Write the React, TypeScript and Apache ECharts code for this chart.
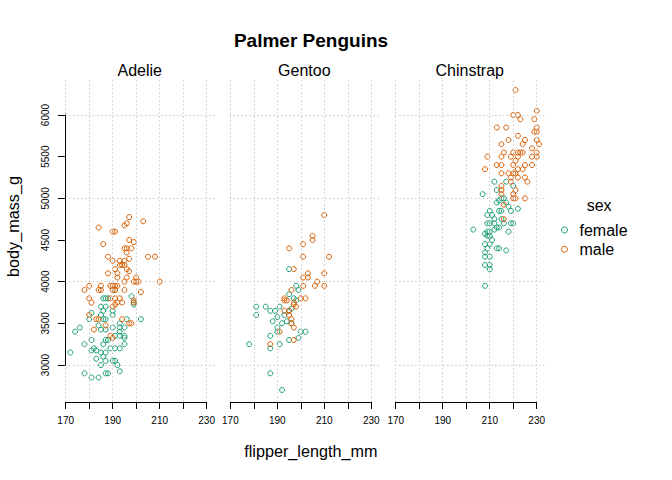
import React, { useEffect, useRef } from "react";
import * as echarts from "echarts";

const PANELS = ["Adelie", "Gentoo", "Chinstrap"];
const SEXES = ["female", "male"];
const X_TICKS = [170, 180, 190, 200, 210, 220, 230];
const X_LABELS = [170, 190, 210, 230];
const Y_TICKS = [3000, 3500, 4000, 4500, 5000, 5500, 6000];
const Y_GRID = [3000, 4000, 5000, 6000];

const ADELIE_FEMALE = [
  [198, 3825], [199, 3750], [199, 3725], [186, 3800], [187, 3800], [188, 3800], [191, 3900],
  [181, 3625], [185, 3700], [187, 3700], [186, 3650], [190, 3650], [190, 3600], [180, 3550],
  [185, 3600], [186, 3550], [187, 3550], [196, 3550], [202, 3550], [176, 3450], [174, 3400],
  [184, 3475], [185, 3425], [187, 3425], [190, 3450], [193, 3500], [193, 3450], [195, 3450],
  [193, 3400], [195, 3350], [195, 3325], [178, 3250], [172, 3150], [181, 3300], [187, 3300],
  [188, 3300], [191, 3350], [193, 3350], [182, 3200], [181, 3175], [183, 3175], [186, 3250],
  [189, 3200], [191, 3200], [195, 3250], [193, 3200], [185, 3150], [187, 3150], [186, 3100],
  [183, 3075], [187, 3050], [190, 3050], [191, 3050], [192, 3000], [185, 3000], [193, 2925],
  [178, 2900], [181, 2850], [184, 2850], [187, 2900], [188, 2900],
];
const ADELIE_MALE = [
  [197, 4775], [203, 4725], [196, 4700], [195, 4675], [184, 4650], [190, 4600], [191, 4600],
  [186, 4450], [197, 4500], [199, 4475], [195, 4400], [196, 4400], [198, 4400], [196, 4350],
  [188, 4300], [190, 4250], [193, 4250], [195, 4250], [197, 4275], [205, 4300], [208, 4300],
  [193, 4200], [194, 4200], [195, 4200], [191, 4150], [196, 4150], [197, 4125], [188, 4100],
  [192, 4100], [192, 4050], [196, 4050], [200, 4050], [201, 4000], [200, 4000], [195, 4000],
  [199, 4000], [210, 4000], [185, 3950], [180, 3950], [189, 3950], [190, 3950], [191, 3950],
  [192, 3950], [178, 3900], [184, 3900], [185, 3900], [190, 3900], [191, 3900], [195, 3900],
  [202, 3875], [180, 3800], [181, 3750], [189, 3800], [191, 3800], [193, 3800], [190, 3700],
  [191, 3725], [192, 3750], [194, 3750], [199, 3775], [199, 3750], [180, 3600], [183, 3550],
  [184, 3550], [194, 3550], [182, 3425], [187, 3475], [197, 3500], [198, 3500], [189, 3350],
  [190, 3325],
];
const GENTOO_FEMALE = [
  [195, 4150], [198, 3950], [199, 3900], [195, 3850], [197, 3800], [198, 3775], [181, 3700],
  [185, 3700], [191, 3700], [181, 3600], [187, 3650], [189, 3650], [193, 3600], [196, 3675],
  [195, 3650], [190, 3575], [188, 3525], [192, 3500], [194, 3525], [196, 3500], [190, 3450],
  [190, 3400], [200, 3400], [202, 3400], [187, 3350], [199, 3325], [195, 3300], [178, 3250],
  [187, 3200], [191, 3250], [187, 2900], [192, 2700],
];
const GENTOO_MALE = [
  [210, 4800], [205, 4550], [205, 4500], [201, 4450], [195, 4400], [201, 4300], [212, 4300],
  [197, 4150], [203, 4100], [201, 4050], [203, 4050], [210, 4100], [207, 4000], [201, 3950],
  [206, 3950], [210, 3950], [196, 3900], [200, 3800], [202, 3800], [193, 3800], [194, 3775],
  [193, 3775], [197, 3750], [197, 3725], [198, 3700], [193, 3650], [195, 3650], [195, 3600],
  [196, 3550], [196, 3500], [197, 3450], [191, 3400], [187, 3250], [197, 3300],
];
const CHINSTRAP_FEMALE = [
  [212, 5200], [217, 5200], [213, 5100], [220, 5150], [207, 5050], [215, 5000], [216, 5000],
  [214, 4975], [213, 4950], [217, 4950], [218, 4900], [210, 4850], [214, 4850], [215, 4850],
  [219, 4850], [222, 4875], [209, 4800], [211, 4800], [212, 4750], [215, 4750], [216, 4700],
  [209, 4700], [210, 4700], [212, 4700], [219, 4700], [220, 4700], [214, 4650], [213, 4650],
  [212, 4625], [203, 4625], [218, 4600], [209, 4600], [210, 4600], [208, 4575], [209, 4550],
  [210, 4550], [211, 4500], [208, 4450], [210, 4450], [209, 4400], [213, 4400], [214, 4400],
  [217, 4375], [208, 4350], [208, 4300], [210, 4300], [208, 4200], [210, 4200], [210, 4150],
  [208, 3950],
];
const CHINSTRAP_MALE = [
  [221, 6300], [220, 6000], [222, 6000], [230, 6050], [223, 5950], [229, 5950], [213, 5850],
  [217, 5850], [230, 5850], [229, 5800], [230, 5800], [222, 5750], [218, 5700], [225, 5700],
  [230, 5700], [215, 5650], [224, 5650], [231, 5650], [228, 5600], [216, 5550], [220, 5550],
  [222, 5550], [223, 5550], [224, 5550], [230, 5550], [209, 5500], [215, 5500], [219, 5500],
  [222, 5500], [228, 5500], [230, 5500], [221, 5450], [213, 5400], [215, 5400], [220, 5400],
  [225, 5400], [228, 5400], [208, 5350], [222, 5350], [224, 5350], [215, 5300], [218, 5300],
  [220, 5300], [221, 5300], [219, 5250], [222, 5250], [225, 5250], [226, 5200], [219, 5200],
  [215, 5150], [215, 5100], [221, 5100], [215, 5050], [220, 5050], [220, 5000], [221, 5000],
  [225, 5000], [216, 4925], [216, 4750],
];

const PANEL_DATA = [
  [ADELIE_FEMALE, ADELIE_MALE],
  [GENTOO_FEMALE, GENTOO_MALE],
  [CHINSTRAP_FEMALE, CHINSTRAP_MALE],
];

const COLORS: Record<string, string> = { female: "#1B9E77", male: "#D95F02" };
const FF = "'Liberation Sans', Arial, Helvetica, sans-serif";

// data range with 4% padding (R style)
const XMIN = 169.64, XMAX = 233.36, YMIN = 2556, YMAX = 6444;
// layout
const PANEL_LEFT = [64.85, 229.5, 394.9];
const PANEL_W = 149.7;
const PANEL_TOP = 78;
const PANEL_H = 324;

export default function App() {
  const ref = useRef<HTMLDivElement>(null);
  useEffect(() => {
    if (!ref.current) return;
    const chart = echarts.init(ref.current, undefined, { renderer: "svg" });
    const XS = PANEL_W / (XMAX - XMIN);
    const YS = PANEL_H / (YMAX - YMIN);
    const x0 = X_TICKS[0], x1 = X_TICKS[X_TICKS.length - 1];
    const y0 = Y_TICKS[0], y1 = Y_TICKS[Y_TICKS.length - 1];

    const grid: any[] = [];
    const xAxis: any[] = [];
    const yAxis: any[] = [];
    const series: any[] = [];
    const graphic: any[] = [];

    PANELS.forEach((name, i) => {
      const L = PANEL_LEFT[i];
      grid.push({ left: L, top: PANEL_TOP, width: PANEL_W, height: PANEL_H, outerBoundsMode: "none", containLabel: false });
      grid.push({
        left: L + (x0 - XMIN) * XS,
        top: PANEL_TOP + (YMAX - y1) * YS,
        width: (x1 - x0) * XS,
        height: (y1 - y0) * YS,
        outerBoundsMode: "none",
        containLabel: false,
      });
      xAxis.push({ type: "value", gridIndex: 2 * i, min: XMIN, max: XMAX, show: false });
      yAxis.push({ type: "value", gridIndex: 2 * i, min: YMIN, max: YMAX, show: false });
      xAxis.push({
        type: "value",
        gridIndex: 2 * i + 1,
        min: x0,
        max: x1,
        interval: 10,
        position: "bottom",
        z: 5,
        offset: (y0 - YMIN) * YS,
        axisLine: { show: true, lineStyle: { color: "#000", width: 1 } },
        axisTick: { show: true, length: 7, inside: false, lineStyle: { color: "#000", width: 1 } },
        axisLabel: {
          show: true,
          fontSize: 10,
          color: "#000",
          fontFamily: FF,
          margin: 13,
          showMinLabel: true,
          showMaxLabel: true,
          formatter: (v: number) => (X_LABELS.includes(v) ? String(v) : ""),
        },
        splitLine: { show: false },
      });
      yAxis.push({
        type: "value",
        gridIndex: 2 * i + 1,
        min: y0,
        max: y1,
        interval: 500,
        position: "left",
        show: i === 0,
        z: 5,
        offset: (x0 - XMIN) * XS,
        axisLine: { show: true, lineStyle: { color: "#000", width: 1 } },
        axisTick: { show: true, length: 7, inside: false, lineStyle: { color: "#000", width: 1 } },
        axisLabel: {
          show: true,
          fontSize: 10,
          color: "#000",
          fontFamily: FF,
          rotate: 90,
          margin: 14,
          showMinLabel: true,
          showMaxLabel: true,
          formatter: (v: number) => String(v),
        },
        splitLine: { show: false },
      });
      // grid lines
      series.push({
        type: "scatter",
        xAxisIndex: 2 * i,
        yAxisIndex: 2 * i,
        data: [],
        silent: true,
        z: 1,
        markLine: {
          silent: true,
          symbol: ["none", "none"],
          label: { show: false },
          emphasis: { disabled: true },
          lineStyle: { color: "#c8c8c8", type: [1.5, 2.5], width: 1 },
          animation: false,
          data: [
            ...X_TICKS.map((v) => ({ xAxis: v })),
            ...Y_GRID.map((v) => ({ yAxis: v })),
          ],
        },
      });
      series.push({ type: "scatter", xAxisIndex: 2 * i + 1, yAxisIndex: 2 * i + 1, data: [], silent: true });
      SEXES.forEach((sex, j) => {
        series.push({
          type: "scatter",
          name: sex,
          xAxisIndex: 2 * i,
          yAxisIndex: 2 * i,
          data: PANEL_DATA[i][j],
          symbol: "circle",
          symbolSize: 5,
          silent: true,
          z: 3,
          itemStyle: { color: "transparent", borderColor: COLORS[sex], borderWidth: 1, opacity: 1 },
        });
      });
      graphic.push({
        type: "text",
        x: L + PANEL_W / 2,
        y: 70.4,
        style: { text: name, fontSize: 16, fontFamily: FF, fill: "#000", align: "center", verticalAlign: "middle" },
      });
    });

    graphic.push({
      type: "text",
      x: 311,
      y: 40,
      style: { text: "Palmer Penguins", fontSize: 19, fontWeight: "bold", fontFamily: FF, fill: "#000", align: "center", verticalAlign: "middle" },
    });
    graphic.push({
      type: "text",
      x: 310.8,
      y: 450.5,
      style: { text: "flipper_length_mm", fontSize: 16.2, fontFamily: FF, fill: "#000", align: "center", verticalAlign: "middle" },
    });
    graphic.push({
      type: "text",
      x: 13.4,
      y: 226.5,
      rotation: Math.PI / 2,
      style: { text: "body_mass_g", fontSize: 16.2, fontFamily: FF, fill: "#000", align: "center", verticalAlign: "middle" },
    });
    graphic.push({
      type: "text",
      x: 586.7,
      y: 205.4,
      style: { text: "sex", fontSize: 16, fontFamily: FF, fill: "#000", align: "left", verticalAlign: "middle" },
    });

    chart.setOption({
      animation: false,
      backgroundColor: "#fff",
      textStyle: { fontFamily: FF },
      grid,
      xAxis,
      yAxis,
      series,
      graphic,
      legend: {
        orient: "vertical",
        left: 561,
        top: 222,
        padding: 0,
        itemWidth: 20,
        itemHeight: 6,
        itemGap: 3.3,
        selectedMode: false,
        textStyle: { fontSize: 16, lineHeight: 16, color: "#000", fontFamily: FF },
        data: SEXES.map((s) => ({
          name: s,
          icon: "circle",
          itemStyle: { color: "transparent", borderColor: COLORS[s], borderWidth: 1 },
        })),
      },
    });
    return () => chart.dispose();
  }, []);
  return <div ref={ref} style={{ position: "absolute", left: 0, top: 0, width: 672, height: 480 }} />;
}
